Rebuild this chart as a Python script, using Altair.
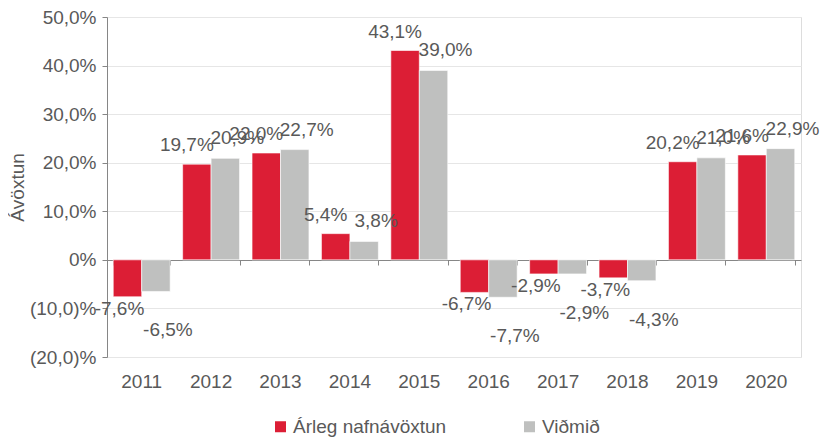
import altair as alt
import pandas as pd

years = ["2011", "2012", "2013", "2014", "2015", "2016", "2017", "2018", "2019", "2020"]
arleg = [-7.6, 19.7, 22.0, 5.4, 43.1, -6.7, -2.9, -3.7, 20.2, 21.6]
vidmid = [-6.5, 20.9, 22.7, 3.8, 39.0, -7.7, -2.9, -4.3, 21.0, 22.9]
series = ["Árleg nafnávöxtun", "Viðmið"]
colors = ["#DC1E35", "#BFC0BF"]
y_ticks = [-20, -10, 0, 10, 20, 30, 40, 50]

rows = []
for i, yr in enumerate(years):
    rows.append({"year": yr, "series": series[0], "value": arleg[i]})
    rows.append({"year": yr, "series": series[1], "value": vidmid[i]})
df = pd.DataFrame(rows)
df["label"] = df["value"].map(lambda v: f"{v:.1f}".replace(".", ",") + "%")

FONT = "Liberation Sans"
GREY = "#595959"
FS = 19
W, H = 694, 340
zero_offset = -round(H * 20 / 70)

x_scale = alt.Scale(paddingInner=0.18, paddingOuter=0.09)
y_scale = alt.Scale(domain=[-20, 50], nice=False, zero=False)

label_expr = (
    "datum.value == 0 ? '0%' : (datum.value < 0 ? '(' + replace(format(-datum.value, '.1f'), '.', ',') + ')%' "
    ": replace(format(datum.value, '.1f'), '.', ',') + '%')"
)

base = alt.Chart(df)

bars = base.mark_bar(stroke="white", strokeWidth=0.6).encode(
    x=alt.X("year:N", sort=years, scale=x_scale,
            axis=alt.Axis(title=None, domain=False, ticks=False, labelAngle=0, orient="bottom",
                          labelFontSize=FS, labelColor=GREY, labelFont=FONT, labelPadding=15,
                          grid=False)),
    xOffset=alt.XOffset("series:N", sort=series, scale=alt.Scale(paddingInner=0.0)),
    y=alt.Y("value:Q", scale=y_scale,
            axis=alt.Axis(title="Ávöxtun", values=y_ticks, labelExpr=label_expr,
                          labelFontSize=FS, labelColor=GREY, labelFont=FONT, labelPadding=6,
                          titleFontSize=FS, titleColor=GREY, titleFont=FONT, titleFontWeight="normal",
                          titlePadding=2,
                          domain=True, domainColor="#868686", ticks=True, tickColor="#868686",
                          tickSize=5, grid=True, gridColor="#E6E6E6")),
    color=alt.Color("series:N", sort=series,
                    scale=alt.Scale(domain=series, range=colors),
                    legend=alt.Legend(title=None, orient="none", direction="horizontal",
                                      legendX=164, legendY=400, padding=0,
                                      symbolType="square", symbolSize=121, symbolStrokeWidth=0,
                                      symbolOffset=0, labelOffset=3,
                                      labelFontSize=FS, labelColor=GREY, labelFont=FONT,
                                      columnPadding=73, labelLimit=300)),
)

zero_axis = base.mark_point(opacity=0).encode(
    x=alt.X("year:N", sort=years, scale=x_scale,
            axis=alt.Axis(title=None, labels=False, domain=True, domainColor="#868686", orient="bottom",
                          ticks=True, tickColor="#868686", tickSize=5, tickBand="extent",
                          offset=zero_offset, grid=False)),
    y=alt.Y("value:Q", scale=y_scale),
)


def label_layer(name, positive, dx, dy):
    cond = "datum.value >= 0" if positive else "datum.value < 0"
    return base.transform_filter(
        f"datum.series == '{name}' && {cond}"
    ).mark_text(
        baseline="bottom" if positive else "top", dx=dx, dy=dy,
        fontSize=FS, font=FONT, color=GREY
    ).encode(
        x=alt.X("year:N", sort=years, scale=x_scale, axis=None),
        xOffset=alt.XOffset("series:N", sort=series),
        y=alt.Y("value:Q", scale=y_scale),
        text="label:N",
    )


labels = [
    label_layer(series[0], True, -10, -9),
    label_layer(series[1], True, 12, -10),
    label_layer(series[0], False, -8, 3),
    label_layer(series[1], False, 12, 30),
]

chart = alt.layer(bars, zero_axis, *labels).resolve_axis(
    x="independent"
).properties(
    width=W, height=H, padding={"left": 0, "top": 0, "right": 5, "bottom": 0}
).configure_view(stroke=None).configure(font=FONT)

chart.save("out.html", embed_options={"renderer": "svg", "actions": False})
